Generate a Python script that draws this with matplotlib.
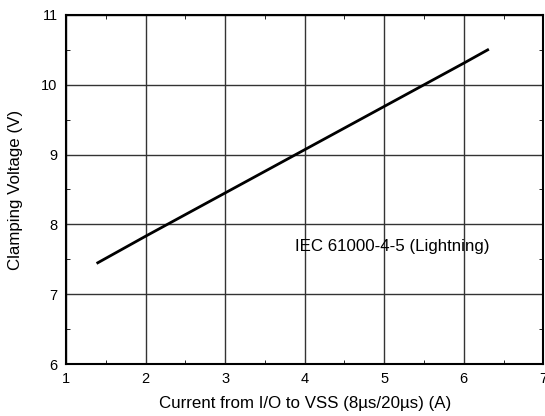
import matplotlib
matplotlib.use("Agg")
import matplotlib.pyplot as plt
from matplotlib.ticker import MultipleLocator

plt.rcParams['font.family'] = ['Liberation Sans', 'DejaVu Sans']

# Clamping curve
current = [1.4, 2.0, 3.0, 4.0, 5.0, 6.0, 6.3]
voltage = [7.45, 7.83, 8.45, 9.07, 9.69, 10.31, 10.5]

label = "IEC 61000-4-5 (Lightning)"

fig = plt.figure(figsize=(5.45, 4.16), dpi=100)
ax = fig.add_axes([0.121, 0.125, 0.876, 0.839])

ax.plot(current, voltage, color="black", linewidth=2)
ax.text(3.88, 7.68, label, fontsize=12.2, va="center", ha="left")

ax.set_xlim(1, 7)
ax.set_ylim(6, 11)
ax.xaxis.set_major_locator(MultipleLocator(1))
ax.yaxis.set_major_locator(MultipleLocator(1))
ax.xaxis.set_minor_locator(MultipleLocator(0.5))
ax.yaxis.set_minor_locator(MultipleLocator(0.5))
ax.grid(True, which="major", color="#333333", linewidth=1)
ax.tick_params(which="both", direction="in", top=True, right=True, labelsize=10.5)
ax.tick_params(which="major", length=0, pad=6)
ax.tick_params(which="minor", length=3)
for s in ax.spines.values():
    s.set_linewidth(1.5)

ax.set_xlabel("Current from I/O to VSS (8\u00b5s/20\u00b5s) (A)", fontsize=12.2, labelpad=7)
ax.set_ylabel("Clamping Voltage (V)", fontsize=12.2, labelpad=13)

fig.savefig("out.png", dpi=100)
